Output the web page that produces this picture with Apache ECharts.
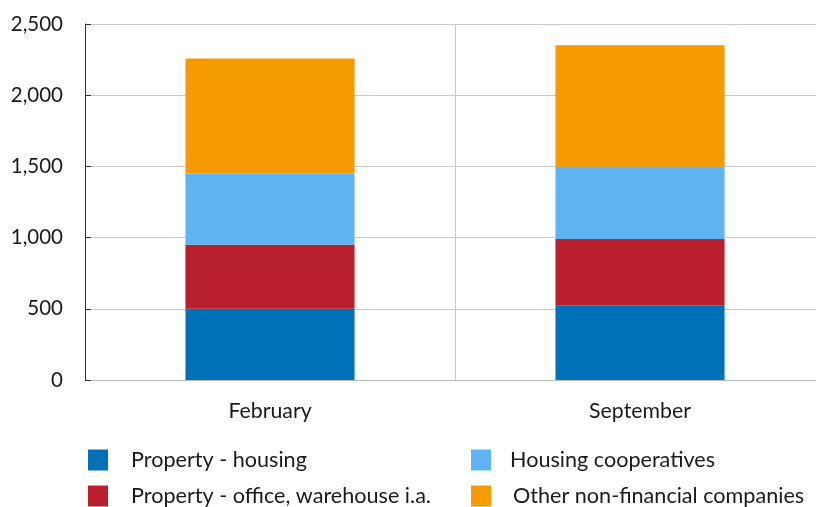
<!DOCTYPE html>
<html>
<head>
<meta charset="utf-8">
<script src="https://cdn.jsdelivr.net/npm/echarts@6/dist/echarts.min.js"></script>
<style>
  html, body { margin: 0; padding: 0; background: #fff; overflow: hidden; }
  /* the plot area runs past the right edge of the window, as in the reference */
  #chart { width: 825px; height: 507px; }
</style>
</head>
<body>
<div id="chart"></div>
<script>
// data
const categories = ['February', 'September']
const propertyHousing = [500, 522]
const propertyOffice = [450, 468]
const housingCoops = [500, 508]
const otherCompanies = [808, 852]
const yTicks = [0, 500, 1000, 1500, 2000, 2500]

const fontFamily = 'Lato, "Open Sans", sans-serif'
const textColor = '#1a1a1a'

const chart = echarts.init(document.getElementById('chart'), null, { renderer: 'canvas' })

function legendAt(name, left, top, gap) {
  return {
    data: [name],
    left: left,
    top: top,
    padding: 0,
    orient: 'horizontal',
    icon: 'rect',
    itemWidth: 20,
    itemHeight: 21,
    selectedMode: false,
    textStyle: {
      color: textColor,
      fontSize: 21.6,
      fontFamily: fontFamily,
      padding: [0, 0, 0, gap]
    }
  }
}

function barSeries(name, values, color) {
  return {
    name: name,
    type: 'bar',
    stack: 'total',
    barWidth: '45.7%',
    data: values,
    itemStyle: { color: color },
    emphasis: { disabled: true }
  }
}

const option = {
  animation: false,
  grid: {
    left: 85,
    top: 24,
    right: 0,
    bottom: 127,
    containLabel: false
  },
  legend: [
    legendAt('Property - housing', 88, 449, 18),
    legendAt('Housing cooperatives', 471, 449, 14),
    legendAt('Property - office, warehouse i.a.', 88, 485, 18),
    legendAt('Other non-financial companies', 471, 485, 17)
  ],
  xAxis: {
    type: 'category',
    data: categories,
    axisLine: { lineStyle: { color: '#bdbdbd', width: 1 } },
    axisTick: { show: false },
    splitLine: { show: true, lineStyle: { color: '#c8c8c8', width: 1 } },
    axisLabel: {
      color: textColor,
      fontSize: 21.3,
      fontFamily: fontFamily,
      margin: 21
    }
  },
  yAxis: {
    type: 'value',
    min: yTicks[0],
    max: yTicks[yTicks.length - 1],
    interval: 500,
    axisLine: { show: true, lineStyle: { color: '#333', width: 1 } },
    axisTick: { show: true, inside: true, length: 6, lineStyle: { color: '#333' } },
    splitLine: { lineStyle: { color: '#c8c8c8', width: 1 } },
    axisLabel: {
      color: textColor,
      fontSize: 20.5,
      fontFamily: fontFamily,
      margin: 22,
      formatter: v => v.toLocaleString('en-US')
    }
  },
  series: [
    barSeries('Property - housing', propertyHousing, '#0070B8'),
    barSeries('Property - office, warehouse i.a.', propertyOffice, '#B91F2D'),
    barSeries('Housing cooperatives', housingCoops, '#5EB4F3'),
    barSeries('Other non-financial companies', otherCompanies, '#F59B00')
  ]
}

chart.setOption(option)
</script>
</body>
</html>
